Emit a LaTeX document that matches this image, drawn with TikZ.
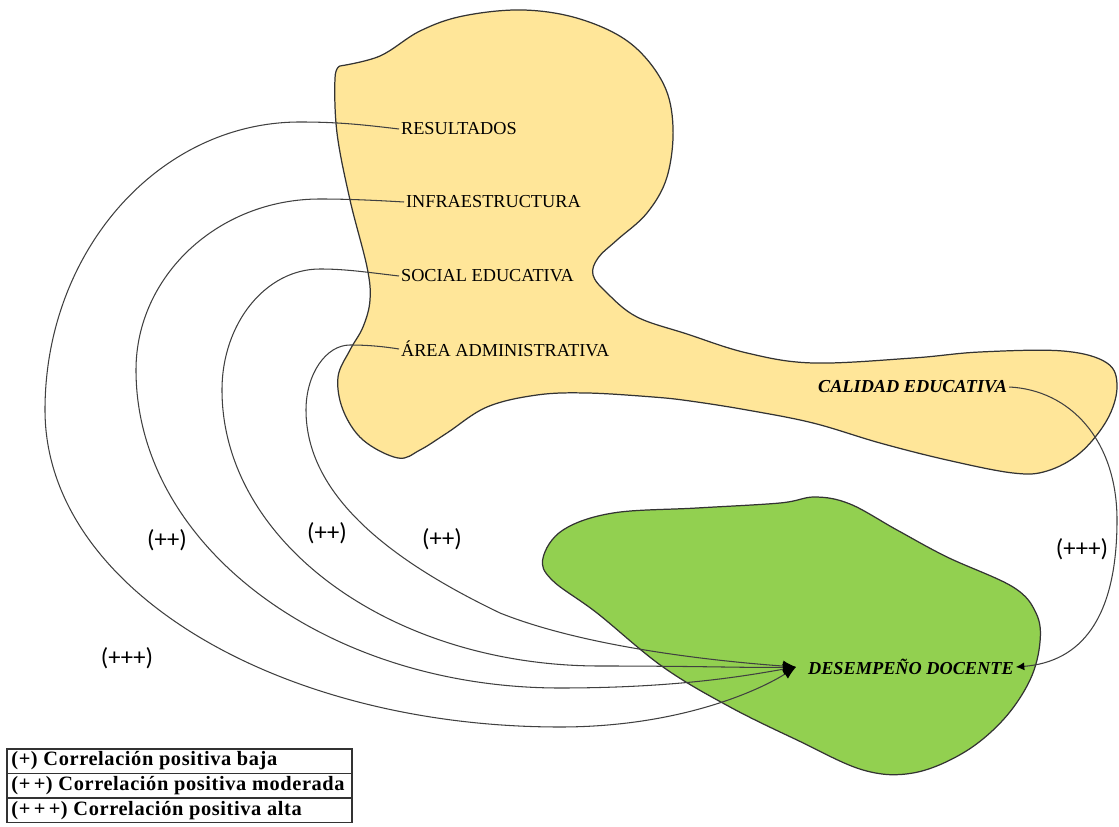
\documentclass[tikz,border=0pt]{standalone}
\usepackage{fontspec}
\setmainfont{Liberation Serif}
\newfontfamily\lblfont{Carlito}
\usetikzlibrary{arrows.meta}
\definecolor{yel}{HTML}{FFE699}
\definecolor{grn}{HTML}{92D050}
\begin{document}
\begin{tikzpicture}[x=0.02cm,y=-0.02cm,
  blob/.style={draw=black!80,line width=0.7pt},
  conn/.style={draw=black!75,line width=0.6pt},
  bigtip/.style={-{Latex[length=2.6mm,width=2.2mm,color=black]}},
  smalltip/.style={-{Latex[length=1.7mm,width=1.6mm,color=black]}},
  lab/.style={font=\fontsize{10.4}{12}\selectfont,inner sep=1pt,anchor=west},
  keylab/.style={font=\bfseries\itshape\fontsize{10.4}{12}\selectfont,inner sep=1pt,anchor=west},
  corr/.style={font=\lblfont\fontsize{14}{16}\selectfont,inner sep=0pt},
  legtext/.style={anchor=west,inner sep=0pt,
    font=\bfseries\addfontfeature{LetterSpace=3}\fontsize{11.6}{14}\selectfont},
  legbox/.style={draw=black!80,line width=0.6pt}
]
\useasboundingbox (0,0) rectangle (1119,827);

% yellow shape
\path[blob,fill=yel] plot[smooth,tension=0.6] coordinates {
 (340,66) (380,56) (420,31) (463,16) (523,10) (580,19) (630,43) (663,83) (673,127)
 (667,177) (647,213) (617,240) (598,258) (593,275) (607,293) (637,317) (687,334)
 (747,353) (813,363) (913,358) (980,352) (1063,351) (1107,363) (1117,387) (1107,420)
 (1080,453) (1047,471) (1013,473) (947,460) (880,443) (813,423) (747,410) (690,401)
 (653,397) (587,393) (537,395) (487,407) (447,433) (420,450) (398,458) (363,440)
 (343,410) (338,377) (350,350) (363,327) (370,300) (367,267) (350,200) (337,133)
 (335,78) (340,66)} -- cycle;

% green shape
\path[blob,fill=grn] plot[smooth cycle,tension=0.6] coordinates {
 (543,558) (563,530) (613,513) (697,508) (780,503) (815,497) (850,504) (897,530)
 (947,557) (1013,587) (1036,613) (1040,642) (1030,680) (1003,720) (963,753)
 (913,773) (863,770) (797,740) (730,707) (663,667) (597,613) (552,580)};

% text nodes
\node[lab] (res) at (399,129) {RESULTADOS};
\node[lab] (inf) at (404,202) {INFRAESTRUCTURA};
\node[lab] (soc) at (399,276) {SOCIAL EDUCATIVA};
\node[lab] (are) at (399,349) {ÁREA ADMINISTRATIVA};
\node[keylab] (cal) at (816,387) {CALIDAD EDUCATIVA};
\node[keylab] (des) at (806,667) {DESEMPEÑO DOCENTE};

% connectors
\draw[conn,bigtip] (res.west) .. controls (365,125) and (340,122) .. (300,122)
  .. controls (159,122) and (45,251) .. (45,410)
  .. controls (45,590) and (280,727) .. (560,727)
  .. controls (680,727) and (760,690) .. ([xshift=-0.2cm]des.west);
\draw[conn,bigtip] (inf.west) .. controls (370,200) and (345,199) .. (320,199)
  .. controls (218,199) and (136,276) .. (136,370)
  .. controls (136,546) and (326,688) .. (560,688)
  .. controls (680,688) and (750,675) .. ([xshift=-0.2cm]des.west);
\draw[conn,bigtip] (soc.west) .. controls (365,272) and (345,269) .. (320,269)
  .. controls (266,269) and (222,323) .. (222,390)
  .. controls (222,542) and (391,666) .. (600,666)
  .. controls (700,666) and (750,668) .. ([xshift=-0.2cm]des.west);
\draw[conn,bigtip] (are.west) .. controls (380,346) and (365,345) .. (350,345)
  .. controls (326,345) and (306,374) .. (306,410)
  .. controls (306,500) and (400,565) .. (500,613)
  .. controls (580,645) and (700,660) .. ([xshift=-0.2cm]des.west);
\draw[conn,smalltip] (cal.east) .. controls (1070,390) and (1117,440) .. (1117,520)
  .. controls (1117,620) and (1080,662) .. (des.east);

% correlation labels
\node[corr] (c1) at (167,540) {(++)};
\node[corr] (c2) at (327,533) {(++)};
\node[corr] (c3) at (442,539) {(++)};
\node[corr] (c4) at (127,658) {(+++)};
\node[corr] (c5) at (1082,549) {(+++)};

% legend
\draw[legbox] (7,749) rectangle (352,773.5);
\draw[legbox] (7,773.5) rectangle (352,798);
\draw[legbox] (7,798) rectangle (352,822.5);
\node[legtext] (l1) at (11,761) {(+) Correlación positiva baja};
\node[legtext] (l2) at (11,786) {(+\,+) Correlación positiva moderada};
\node[legtext] (l3) at (11,810.5) {(+\,+\,+) Correlación positiva alta};
\end{tikzpicture}
\end{document}
